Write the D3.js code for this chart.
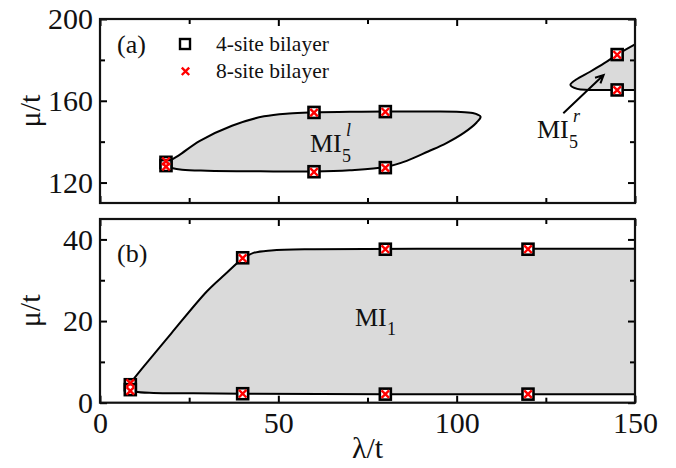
<!DOCTYPE html>
<html>
<head>
<meta charset="utf-8">
<script src="https://cdn.jsdelivr.net/npm/d3@7"></script>
<style>
  html, body { margin: 0; padding: 0; background: #fff; }
  svg text { font-family: "Liberation Serif", "Times New Roman", serif; fill: #111; }
</style>
</head>
<body>
<svg id="chart" width="676" height="468"></svg>
<script>
// ---- data ----------------------------------------------------------------
const xTicksMajor = [0, 50, 100, 150];
const xTicksMinor = [25, 75, 125];
const yTicksTopMajor = [120, 160, 200];
const yTicksTopMinor = [140, 180];
const yTicksBotMajor = [0, 20, 40];
const yTicksBotMinor = [10, 30];

// Panel (a): cluster results
const lambda4A = [18.5, 18.5, 60, 60, 80, 80, 145, 145];
const mu4A     = [129.9, 128.3, 154.3, 125.3, 154.7, 127.3, 182.6, 165.3];
const lambda8A = [18.5, 18.5, 60, 60, 80, 80, 145, 145];
const mu8A     = [130.4, 127.8, 154.2, 125.2, 154.6, 127.2, 182.5, 165.2];

// Panel (a): MI5^l boundary (upper branch then lower branch back)
const lobeL = [
  [18.5, 129.6], [22, 133.2], [28, 140.4], [37, 147.8], [46, 152.4], [53, 153.8],
  [60, 154.3], [70, 154.6], [80, 154.7], [92, 154.7], [100, 154.6], [104.5, 154.0],
  [106.7, 152.2], [105.6, 149.4], [102, 144.3], [97, 139.2], [92, 135.2],
  [86, 130.6], [80, 127.6], [70, 126.0], [60, 125.4], [45, 125.5], [30, 125.8],
  [23, 126.3], [19.5, 127.4]
];
// Panel (a): MI5^r boundary (upper branch from the right edge, round the tip, lower branch)
const lobeR = [
  [150, 187.6], [145, 182.6], [141.5, 178.5], [137.4, 174.2], [133.5, 170.4],
  [131.9, 167.8], [133.8, 165.8], [137, 165.3], [145, 165.3], [150, 165.3]
];
// Panel (a) arrow pointing at MI5^r
const arrowFrom = [129.9, 153.9];
const arrowTo   = [141.2, 172.6];

// Panel (b): cluster results
const lambda4B = [8.5, 8.5, 40, 40, 80, 80, 120, 120];
const mu4B     = [4.4, 3.2, 35.5, 2.2, 37.6, 2.1, 37.6, 2.1];
const lambda8B = [8.5, 8.5, 40, 40, 80, 80, 120, 120];
const mu8B     = [4.8, 2.9, 35.4, 2.2, 37.6, 2.1, 37.6, 2.1];

// Panel (b): MI1 boundaries
const mi1Upper = [
  [8.5, 4.8], [12, 8.6], [20, 17.0], [30, 27.3], [35, 31.4], [40, 35.3],
  [43, 36.7], [48, 37.3], [60, 37.6], [100, 37.7], [150, 37.7]
];
const mi1Lower = [
  [8.5, 3.2], [10, 2.7], [15, 2.4], [25, 2.3], [40, 2.2], [80, 2.1], [150, 2.1]
];

const legendLabels = ["4-site bilayer", "8-site bilayer"];

// ---- layout --------------------------------------------------------------
const svg = d3.select("#chart");
const X0 = 100, X1 = 635;
const x = d3.scaleLinear().domain([0, 150]).range([X0, X1]);
const yTop = d3.scaleLinear().domain([110, 200]).range([203, 19]);
const yBot = d3.scaleLinear().domain([0, 45]).range([402.7, 219]);
const FILL = "#dadada";
const SERIF = '"Liberation Serif", "Times New Roman", serif';
const TICK_FONT = "30px";

// clip regions for each panel
const defs = svg.append("defs");
defs.append("clipPath").attr("id", "clipA").append("rect")
  .attr("x", X0).attr("y", 19).attr("width", X1 - X0).attr("height", 203 - 19);
defs.append("clipPath").attr("id", "clipB").append("rect")
  .attr("x", X0).attr("y", 219).attr("width", X1 - X0).attr("height", 402.7 - 219);

function lineGen(y) {
  return d3.line().x(d => x(d[0])).y(d => y(d[1])).curve(d3.curveCatmullRom.alpha(0.5));
}

// ---- panel (a) -----------------------------------------------------------
const gA = svg.append("g").attr("clip-path", "url(#clipA)");
const lA = lineGen(yTop);
gA.append("path").attr("d", lA(lobeL) + "Z").attr("fill", FILL).attr("stroke", "none");
gA.append("path").attr("d", lA(lobeL) + "Z").attr("fill", "none")
  .attr("stroke", "#000").attr("stroke-width", 2);
gA.append("path").attr("d", lA(lobeR) + "Z").attr("fill", FILL).attr("stroke", "none");
gA.append("path").attr("d", lA(lobeR)).attr("fill", "none")
  .attr("stroke", "#000").attr("stroke-width", 2);

// ---- panel (b) -----------------------------------------------------------
const gB = svg.append("g").attr("clip-path", "url(#clipB)");
const lB = lineGen(yBot);
// fill: upper branch, then the lower branch traced backwards, each curved on its own
const fillPath = lB(mi1Upper) + "L" + lB(mi1Lower.slice().reverse()).slice(1) + "Z";
gB.append("path").attr("d", fillPath).attr("fill", FILL).attr("stroke", "none");
gB.append("path").attr("d", lB(mi1Upper)).attr("fill", "none")
  .attr("stroke", "#000").attr("stroke-width", 2);
gB.append("path").attr("d", lB(mi1Lower)).attr("fill", "none")
  .attr("stroke", "#000").attr("stroke-width", 2);

// ---- markers -------------------------------------------------------------
function squares(g, xs, ys, y) {
  g.selectAll(null).data(xs.map((v, i) => [v, ys[i]])).join("rect")
    .attr("x", d => x(d[0]) - 5.5).attr("y", d => y(d[1]) - 5.5)
    .attr("width", 11).attr("height", 11)
    .attr("fill", "#fff").attr("stroke", "#000").attr("stroke-width", 2.6);
}
function crosses(g, xs, ys, y) {
  g.selectAll(null).data(xs.map((v, i) => [v, ys[i]])).join("path")
    .attr("d", d => {
      const cx = x(d[0]), cy = y(d[1]), s = 3.8;
      return `M${cx - s},${cy - s}L${cx + s},${cy + s}M${cx - s},${cy + s}L${cx + s},${cy - s}`;
    })
    .attr("stroke", "#f00").attr("stroke-width", 2.4).attr("fill", "none");
}
const mA = svg.append("g");
squares(mA, lambda4A, mu4A, yTop);
crosses(mA, lambda8A, mu8A, yTop);
const mB = svg.append("g");
squares(mB, lambda4B, mu4B, yBot);
crosses(mB, lambda8B, mu8B, yBot);

// ---- frames and ticks ----------------------------------------------------
const tickStyle = sel => {
  sel.attr("font-size", null).attr("font-family", null);
  sel.select(".domain").remove();
  sel.selectAll(".tick line").attr("stroke", "#000").attr("stroke-width", 2);
  sel.selectAll("text").style("font-size", TICK_FONT)
    .style("font-family", SERIF).attr("fill", "#111");
};
function xTicks(g, y, showXLabels) {
  const [yb, yt] = y.range();
  g.append("g").attr("transform", `translate(0,${yb})`)
    .call(d3.axisBottom(x).tickValues(xTicksMajor).tickSize(-7).tickPadding(9)
      .tickFormat(showXLabels ? d3.format("d") : () => ""))
    .call(tickStyle);
  g.append("g").attr("transform", `translate(0,${yt})`)
    .call(d3.axisTop(x).tickValues(xTicksMajor).tickSize(-7).tickFormat(() => ""))
    .call(tickStyle);
  g.append("g").attr("transform", `translate(0,${yb})`)
    .call(d3.axisBottom(x).tickValues(xTicksMinor).tickSize(-5).tickFormat(() => ""))
    .call(tickStyle);
  g.append("g").attr("transform", `translate(0,${yt})`)
    .call(d3.axisTop(x).tickValues(xTicksMinor).tickSize(-5).tickFormat(() => ""))
    .call(tickStyle);
}
function yTicks(g, y, major, minor) {
  g.append("g").attr("transform", `translate(${X0},0)`)
    .call(d3.axisLeft(y).tickValues(major).tickSize(-7).tickPadding(7).tickFormat(d3.format("d")))
    .call(tickStyle);
  g.append("g").attr("transform", `translate(${X0},0)`)
    .call(d3.axisLeft(y).tickValues(minor).tickSize(-5).tickFormat(() => ""))
    .call(tickStyle);
  g.append("g").attr("transform", `translate(${X1},0)`)
    .call(d3.axisRight(y).tickValues(major).tickSize(-7).tickFormat(() => ""))
    .call(tickStyle);
  g.append("g").attr("transform", `translate(${X1},0)`)
    .call(d3.axisRight(y).tickValues(minor).tickSize(-5).tickFormat(() => ""))
    .call(tickStyle);
  const [yb, yt] = y.range();
  g.append("rect").attr("x", X0).attr("y", yt).attr("width", X1 - X0).attr("height", yb - yt)
    .attr("fill", "none").attr("stroke", "#111").attr("stroke-width", 2.2);
}
const fA = svg.append("g");
xTicks(fA, yTop, false);
yTicks(fA, yTop, yTicksTopMajor, yTicksTopMinor);
const fB = svg.append("g");
xTicks(fB, yBot, true);
yTicks(fB, yBot, yTicksBotMajor, yTicksBotMinor);

// ---- axis titles ---------------------------------------------------------
const ylab = (cy) => svg.append("text")
  .attr("transform", `translate(40,${cy}) rotate(-90)`)
  .attr("text-anchor", "middle").style("font-size", TICK_FONT).text("\u03bc/t");
ylab(yTop(155));
ylab(yBot(22.5));
svg.append("text").attr("x", x(75)).attr("y", 458)
  .attr("text-anchor", "middle").style("font-size", TICK_FONT).text("\u03bb/t");

// ---- panel letters -------------------------------------------------------
svg.append("text").attr("x", 117).attr("y", 53).style("font-size", "26px").text("(a)");
svg.append("text").attr("x", 117).attr("y", 262).style("font-size", "26px").text("(b)");

// ---- legend --------------------------------------------------------------
const leg = svg.append("g");
leg.append("rect").attr("x", 180).attr("y", 39).attr("width", 10).attr("height", 10)
  .attr("fill", "#fff").attr("stroke", "#000").attr("stroke-width", 2.4);
leg.append("path")
  .attr("d", "M181.8,67.6L189.2,75M181.8,75L189.2,67.6")
  .attr("stroke", "#f00").attr("stroke-width", 2.4);
leg.selectAll("text.lg").data(legendLabels).join("text").attr("class", "lg")
  .attr("x", 216).attr("y", (d, i) => 51 + i * 27)
  .style("font-size", "21.5px").text(d => d);

// ---- phase labels --------------------------------------------------------
function miLabel(x0, yBase, sub, sup, subDy) {
  svg.append("text").attr("x", x0).attr("y", yBase).style("font-size", "26px").text("MI");
  const xs = x0 + 32;
  svg.append("text").attr("x", xs).attr("y", yBase + subDy).style("font-size", "18px").text(sub);
  if (sup) {
    svg.append("text").attr("x", xs + 4).attr("y", yBase - 16).style("font-size", "18px")
      .style("font-style", "italic").text(sup);
  }
}
miLabel(310, 152, "5", "l", 10);
miLabel(537, 138, "5", "r", 10);
miLabel(355, 326, "1", null, 9);

// arrow to MI5^r
const ax0 = x(arrowFrom[0]), ay0 = yTop(arrowFrom[1]);
const ax1 = x(arrowTo[0]), ay1 = yTop(arrowTo[1]);
const ang = Math.atan2(ay1 - ay0, ax1 - ax0);
const hl = 9, hw = 0.45;
svg.append("path")
  .attr("d", `M${ax0},${ay0}L${ax1},${ay1}` +
    `M${ax1 - hl * Math.cos(ang - hw)},${ay1 - hl * Math.sin(ang - hw)}L${ax1},${ay1}` +
    `L${ax1 - hl * Math.cos(ang + hw)},${ay1 - hl * Math.sin(ang + hw)}`)
  .attr("fill", "none").attr("stroke", "#000").attr("stroke-width", 2);
</script>
</body>
</html>
